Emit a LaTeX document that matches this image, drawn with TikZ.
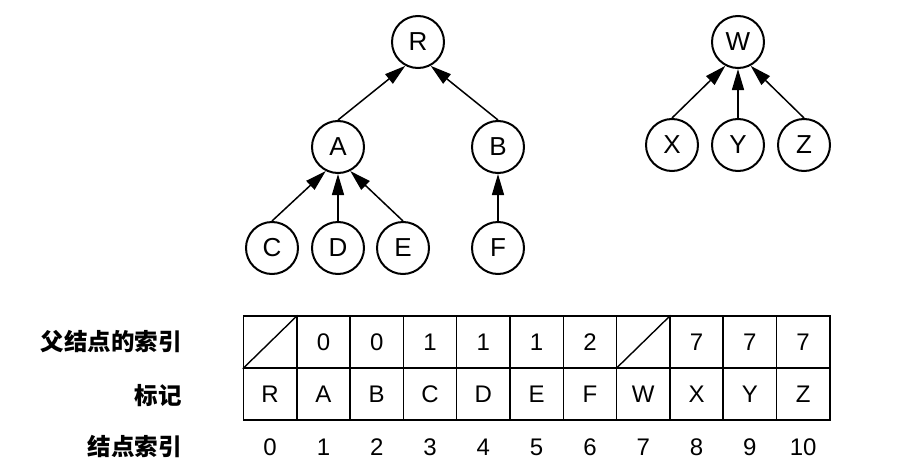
\documentclass[tikz,border=0pt]{standalone}
\usepackage{fontspec}
\setmainfont{Liberation Sans}
\newfontfamily\cjk{Noto Sans CJK SC}
\usetikzlibrary{arrows.meta}
\begin{document}
\begin{tikzpicture}[x=1pt,y=-1pt,
  tnode/.style={circle,draw,line width=2pt,minimum size=52pt,inner sep=0pt,font=\fontsize{26}{26}\selectfont},
  edge/.style={line width=1.5pt,-{Triangle[length=21pt,width=12pt]}},
  cell/.style={draw,line width=1.5pt,minimum width=53.3pt,minimum height=52pt,inner sep=0pt,font=\fontsize{24}{24}\selectfont},
  idx/.style={inner sep=0pt,font=\fontsize{24}{24}\selectfont},
  lab/.style={anchor=east,inner sep=0pt,font=\cjk\bfseries\fontsize{23.5}{23.5}\selectfont}]
\useasboundingbox (0,0) rectangle (911,474);
% tree 1
\node[tnode] (R) at (418,42) {R};
\node[tnode] (A) at (338,147) {A};
\node[tnode] (B) at (498,147) {B};
\node[tnode] (C) at (272,248) {C};
\node[tnode] (D) at (338,248) {D};
\node[tnode] (E) at (403,248) {E};
\node[tnode] (F) at (498,248) {F};
% tree 2
\node[tnode] (W) at (738,42) {W};
\node[tnode] (X) at (672,145) {X};
\node[tnode] (Y) at (738,145) {Y};
\node[tnode] (Z) at (804,145) {Z};
% edges
\draw[edge] (A.north) -- (R.242);
\draw[edge] (B.north) -- (R.298);
\draw[edge] (C.north) -- (A.243);
\draw[edge] (D.north) -- (A.south);
\draw[edge] (E.north) -- (A.297);
\draw[edge] (F.north) -- (B.south);
\draw[edge] (X.north) -- (W.242);
\draw[edge] (Y.north) -- (W.south);
\draw[edge] (Z.north) -- (W.298);
% table
\foreach \i/\p/\l in {0//R,1/0/A,2/0/B,3/1/C,4/1/D,5/1/E,6/2/F,7//W,8/7/X,9/7/Y,10/7/Z}{
  \node[cell] (p\i) at ({243.5+53.3*\i+26.65},342) {\p};
  \node[cell] (l\i) at ({243.5+53.3*\i+26.65},394) {\l};
  \node[idx] (i\i) at ({243.5+53.3*\i+26.65},447) {\i};
}
\draw[line width=1.4pt] (p0.south west) -- (p0.north east);
\draw[line width=1.4pt] (p7.south west) -- (p7.north east);
% labels
\node[lab] (lp) at (182,342) {父结点的索引};
\node[lab] (ll) at (182,396) {标记};
\node[lab] (li) at (182,447) {结点索引};
\end{tikzpicture}
\end{document}
